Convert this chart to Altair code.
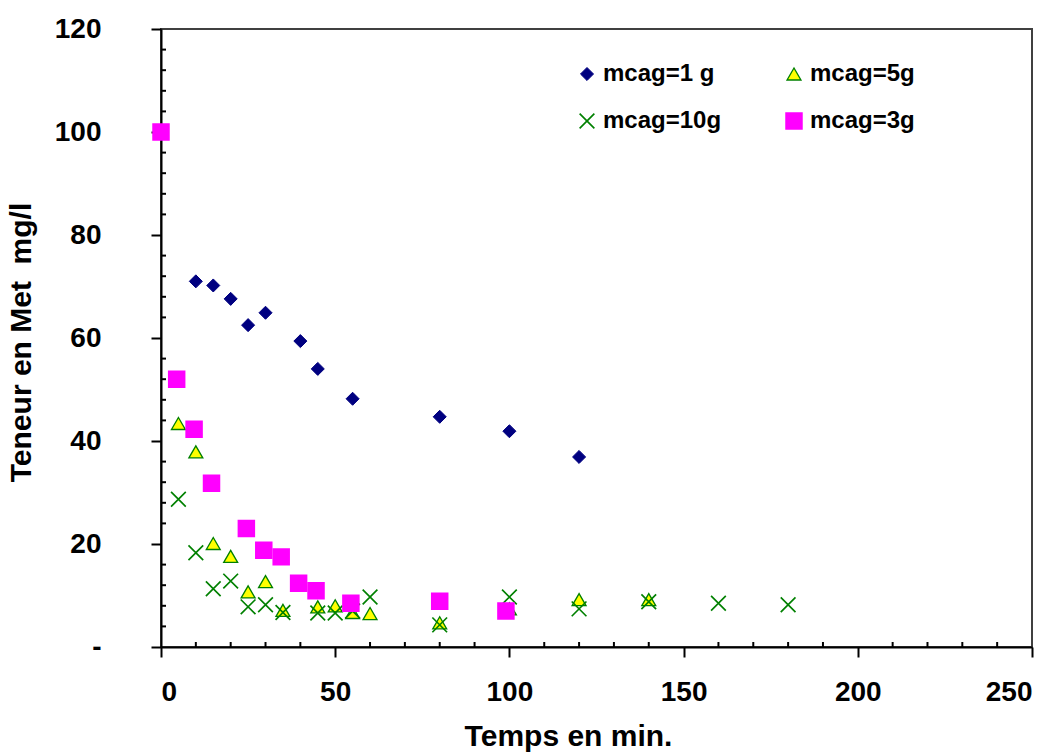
import altair as alt
import pandas as pd

series_names = ["mcag=1 g", "mcag=5g", "mcag=10g", "mcag=3g"]

t_1g = [0, 10, 15, 20, 25, 30, 40, 45, 55, 80, 100, 120]
c_1g = [100, 71.0, 70.2, 67.6, 62.5, 64.9, 59.4, 54.0, 48.2, 44.7, 41.9, 36.9]

t_5g = [0, 5, 10, 15, 20, 25, 30, 35, 45, 50, 55, 60, 80, 100, 120, 140]
c_5g = [100, 43.4, 37.9, 20.1, 17.6, 10.7, 12.7, 7.1, 7.8, 8.0, 6.7, 6.5, 4.7, 7.4, 9.2, 9.2]

t_10g = [0, 5, 10, 15, 20, 25, 30, 35, 45, 50, 55, 60, 80, 100, 120, 140, 160, 180]
c_10g = [100, 28.7, 18.3, 11.3, 12.8, 7.8, 8.2, 6.7, 6.6, 6.6, 7.0, 9.7, 4.3, 9.7, 7.4, 8.8, 8.5, 8.2]

t_3g = [0, 4.5, 9.5, 14.5, 24.5, 29.5, 34.5, 39.5, 44.5, 54.5, 80, 99]
c_3g = [100, 52.0, 42.3, 31.8, 23.0, 18.8, 17.5, 12.4, 10.9, 8.5, 8.9, 7.0]

x_major = [0, 50, 100, 150, 200, 250]
x_minor = [10, 20, 30, 40, 60, 70, 80, 90, 110, 120, 130, 140, 160, 170, 180, 190,
           210, 220, 230, 240]
y_major = [0, 20, 40, 60, 80, 100, 120]
y_minor = [4, 8, 12, 16, 24, 28, 32, 36, 44, 48, 52, 56, 64, 68, 72, 76,
           84, 88, 92, 96, 104, 108, 112, 116]

rows = []
for name, ts, cs in zip(series_names, [t_1g, t_5g, t_10g, t_3g], [c_1g, c_5g, c_10g, c_3g]):
    for t, c in zip(ts, cs):
        rows.append({"serie": name, "temps": t, "teneur": c})
df = pd.DataFrame(rows)

FONT = "Liberation Sans"

xscale = alt.Scale(domain=[0, 250], nice=False, zero=False)
yscale = alt.Scale(domain=[0, 120], nice=False, zero=False)

x_axis = alt.Axis(values=x_major, title="Temps en min.", tickSize=10, tickWidth=2,
                  domainWidth=2, domainColor="black", tickColor="black", grid=False,
                  labelPadding=21, labelFontSize=28, titleFontSize=30,
                  titleX=407, titleY=74, titleBaseline="top", titleAnchor="start",
                  titleAlign="center")
y_axis = alt.Axis(values=y_major, title="Teneur en Met\u00a0 mg/l", tickSize=10, tickWidth=2,
                  domainWidth=2, domainColor="black", tickColor="black", grid=False,
                  labelPadding=50, labelFontSize=28, titleFontSize=30,
                  labelExpr="datum.value == 0 ? '-' : datum.label",
                  titleX=-140, titleY=313, titleBaseline="middle", titleAlign="center",
                  titleAngle=270)

dom = series_names
points = alt.Chart(df).mark_point(filled=True, opacity=1).encode(
    x=alt.X("temps:Q", scale=xscale, axis=x_axis),
    y=alt.Y("teneur:Q", scale=yscale, axis=y_axis),
    shape=alt.Shape("serie:N", sort=dom, scale=alt.Scale(
        domain=dom, range=["diamond", "triangle-up", "M-1,-1L1,1M-1,1L1,-1", "square"]),
        legend=alt.Legend(title=None)),
    fill=alt.Fill("serie:N", sort=dom, scale=alt.Scale(
        domain=dom, range=["#000080", "#FFFF00", "transparent", "#FF00FF"]),
        legend=alt.Legend(title=None)),
    stroke=alt.Stroke("serie:N", sort=dom, scale=alt.Scale(
        domain=dom, range=["#000080", "#008000", "#008000", "#FF00FF"]),
        legend=alt.Legend(title=None)),
    strokeWidth=alt.StrokeWidth("serie:N", sort=dom, scale=alt.Scale(
        domain=dom, range=[1, 2, 2.6, 1]), legend=alt.Legend(title=None)),
    size=alt.Size("serie:N", sort=dom, scale=alt.Scale(
        domain=dom, range=[170, 240, 50, 110]), legend=alt.Legend(title=None)),
)

minor_x = alt.Chart(pd.DataFrame({"v": x_minor})).mark_rule(
    color="black", strokeWidth=2, y2Offset=-5).encode(
    x=alt.X("v:Q", scale=xscale, axis=x_axis),
    y=alt.datum(0, scale=yscale),
    y2=alt.datum(0),
)
minor_y = alt.Chart(pd.DataFrame({"v": y_minor})).mark_rule(
    color="black", strokeWidth=2, x2Offset=5).encode(
    y=alt.Y("v:Q", scale=yscale, axis=y_axis),
    x=alt.datum(0, scale=xscale),
    x2=alt.datum(0),
)

chart = alt.layer(minor_x, minor_y, points).properties(
    width=871, height=618,
    padding={"left": 161, "top": 29, "right": 26, "bottom": 105},
    autosize=alt.AutoSizeParams(type="none"),
).configure_view(
    stroke="#404040", strokeWidth=2
).configure_axis(
    labelFont=FONT, labelFontWeight="bold", labelColor="black",
    titleFont=FONT, titleFontWeight="bold", titleColor="black",
).configure_legend(
    orient="none", legendX=414, legendY=33, columns=2, direction="horizontal",
    labelFont=FONT, labelFontWeight="bold", labelFontSize=24, labelColor="black",
    labelLimit=0, columnPadding=60, rowPadding=23, labelOffset=4,
)

chart.save("out.html", embed_options={"renderer": "svg", "actions": False})
